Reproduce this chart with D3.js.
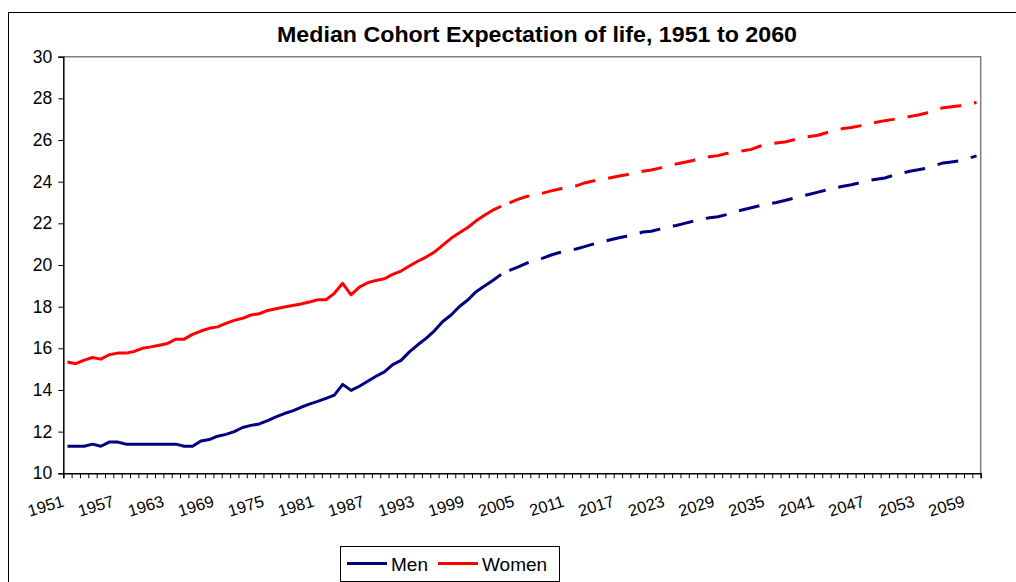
<!DOCTYPE html>
<html>
<head>
<meta charset="utf-8">
<script src="https://cdn.jsdelivr.net/npm/d3@7"></script>
<style>
  html, body { margin: 0; padding: 0; background: #fff; overflow: hidden; }
  svg { display: block; font-family: Arial, "Liberation Sans", sans-serif; }
</style>
</head>
<body>
<svg id="chart" width="1016" height="582"></svg>
<script>
// ---------- data ----------
const title = "Median Cohort Expectation of life, 1951 to 2060";
const years = d3.range(1951, 2061);
const lastObservedYear = 2003;
const xTickLabels = ["1951","1957","1963","1969","1975","1981","1987","1993","1999","2005","2011","2017","2023","2029","2035","2041","2047","2053","2059"];
const yTickValues = [10, 12, 14, 16, 18, 20, 22, 24, 26, 28, 30];
const seriesNames = ["Men", "Women"];

const menValues = [
  // 1951-1960
  11.3, 11.3, 11.3, 11.4, 11.3, 11.5, 11.5, 11.4, 11.4, 11.4,
  // 1961-1970
  11.4, 11.4, 11.4, 11.4, 11.3, 11.3, 11.55, 11.62, 11.78, 11.87,
  // 1971-1980
  12.0, 12.2, 12.3, 12.37, 12.53, 12.71, 12.87, 13.0, 13.17, 13.32,
  // 1981-1990
  13.45, 13.6, 13.75, 14.27, 13.98, 14.18, 14.42, 14.66, 14.87, 15.22,
  // 1991-2000
  15.42, 15.83, 16.17, 16.48, 16.84, 17.29, 17.6, 18.01, 18.32, 18.72,
  // 2001-2010
  18.99, 19.26, 19.55, 19.74, 19.9, 20.08, 20.22, 20.33, 20.48, 20.6,
  // 2011-2020
  20.71, 20.77, 20.88, 21.0, 21.1, 21.2, 21.3, 21.38, 21.47, 21.58,
  // 2021-2030
  21.62, 21.72, 21.83, 21.9, 22.0, 22.1, 22.2, 22.27, 22.32, 22.42,
  // 2031-2040
  22.55, 22.65, 22.75, 22.85, 22.92, 23.0, 23.1, 23.2, 23.3, 23.4,
  // 2041-2050
  23.5, 23.6, 23.7, 23.78, 23.85, 23.95, 24.05, 24.12, 24.18, 24.3,
  // 2051-2060
  24.4, 24.5, 24.57, 24.65, 24.78, 24.9, 24.95, 25.0, 25.12, 25.24
];

const womenValues = [
  // 1951-1960
  15.34, 15.26, 15.43, 15.56, 15.48, 15.69, 15.77, 15.77, 15.85, 16.0,
  // 1961-1970
  16.07, 16.15, 16.23, 16.44, 16.44, 16.67, 16.83, 16.96, 17.03, 17.2,
  // 1971-1980
  17.34, 17.44, 17.6, 17.66, 17.82, 17.9, 17.98, 18.06, 18.13, 18.22,
  // 1981-1990
  18.33, 18.33, 18.64, 19.12, 18.57, 18.94, 19.15, 19.26, 19.34, 19.55,
  // 1991-2000
  19.71, 19.95, 20.18, 20.38, 20.62, 20.95, 21.28, 21.55, 21.8, 22.12,
  // 2001-2010
  22.39, 22.63, 22.82, 22.98, 23.15, 23.28, 23.38, 23.45, 23.56, 23.65,
  // 2011-2020
  23.74, 23.8, 23.94, 24.03, 24.1, 24.18, 24.26, 24.33, 24.41, 24.5,
  // 2021-2030
  24.56, 24.65, 24.76, 24.85, 24.93, 25.02, 25.13, 25.2, 25.25, 25.35,
  // 2031-2040
  25.42, 25.48, 25.55, 25.7, 25.8, 25.86, 25.9, 26.0, 26.1, 26.17,
  // 2041-2050
  26.23, 26.35, 26.46, 26.55, 26.6, 26.68, 26.77, 26.85, 26.93, 26.99,
  // 2051-2060
  27.08, 27.13, 27.2, 27.3, 27.45, 27.55, 27.6, 27.65, 27.72, 27.8
];

const seriesColors = ["#000080", "#FF0000"];

// ---------- layout ----------
const svg = d3.select("#chart");
const plot = { left: 63.3, right: 980.7, top: 56.7, bottom: 473.3 };

// outer chart frame
svg.append("rect")
  .attr("x", 8.5).attr("y", 12.5)
  .attr("width", 1100).attr("height", 700)
  .attr("fill", "#fff").attr("stroke", "#000").attr("stroke-width", 1);

// title
svg.append("text")
  .attr("x", 537).attr("y", 42)
  .attr("text-anchor", "middle")
  .attr("font-size", 21.5).attr("font-weight", "bold")
  .attr("textLength", 520).attr("lengthAdjust", "spacingAndGlyphs")
  .attr("fill", "#000")
  .text(title);

// scales
const xBand = d3.scaleBand().domain(years).range([plot.left, plot.right]).padding(0);
const xEdge = d3.scaleLinear().domain([1951, 2061]).range([plot.left, plot.right]);
const y = d3.scaleLinear().domain([10, 30]).range([plot.bottom, plot.top]);
const cx = yr => xBand(yr) + xBand.bandwidth() / 2;

// plot area border (top & right grey)
svg.append("path")
  .attr("d", `M${plot.left},${plot.top}H${plot.right}V${plot.bottom}`)
  .attr("fill", "none").attr("stroke", "#808080").attr("stroke-width", 1.5);

// y axis
const yAxis = svg.append("g")
  .attr("transform", `translate(${plot.left},0)`)
  .call(d3.axisLeft(y).tickValues(yTickValues).tickSize(5).tickPadding(6).tickFormat(d3.format("d")));
yAxis.select(".domain").attr("stroke", "#000").attr("stroke-width", 1.5);
yAxis.selectAll(".tick line").attr("stroke", "#000");
yAxis.selectAll(".tick text")
  .attr("font-size", 17.5).attr("fill", "#000")
  .attr("font-family", "Arial, 'Liberation Sans', sans-serif");

// x axis (ticks at category boundaries)
const xAxis = svg.append("g")
  .attr("transform", `translate(0,${plot.bottom})`)
  .call(d3.axisBottom(xEdge).tickValues(d3.range(1951, 2062)).tickSize(5).tickFormat(""));
xAxis.select(".domain").attr("stroke", "#000").attr("stroke-width", 1.5);
xAxis.selectAll(".tick line").attr("stroke", "#000");

// x tick labels (rotated)
svg.append("g").selectAll("text")
  .data(xTickLabels)
  .join("text")
  .attr("transform", d => `translate(${cx(+d) - 2.5},${506}) rotate(-17)`)
  .attr("text-anchor", "end")
  .attr("font-size", 16.5).attr("fill", "#000")
  .text(d => d);

// lines
const line = d3.line().x(d => cx(d.year)).y(d => y(d.value));
[menValues, womenValues].forEach((vals, i) => {
  const pts = years.map((yr, k) => ({ year: yr, value: vals[k] }));
  const observed = pts.filter(p => p.year <= lastObservedYear);
  const projected = pts.filter(p => p.year >= lastObservedYear);
  svg.append("path").datum(observed)
    .attr("d", line).attr("fill", "none")
    .attr("stroke", seriesColors[i]).attr("stroke-width", 3)
    .attr("stroke-linejoin", "round");
  svg.append("path").datum(projected)
    .attr("d", line).attr("fill", "none")
    .attr("stroke", seriesColors[i]).attr("stroke-width", 3)
    .attr("stroke-dasharray", "21 13").attr("stroke-dashoffset", 25);
});

// legend
const legend = svg.append("g");
legend.append("rect")
  .attr("x", 340.5).attr("y", 546.5).attr("width", 219).attr("height", 35)
  .attr("fill", "#fff").attr("stroke", "#000").attr("stroke-width", 1);
const legendItems = [
  { name: seriesNames[0], color: seriesColors[0], x0: 347 },
  { name: seriesNames[1], color: seriesColors[1], x0: 438 }
];
legendItems.forEach(it => {
  legend.append("line")
    .attr("x1", it.x0).attr("x2", it.x0 + 40)
    .attr("y1", 563.5).attr("y2", 563.5)
    .attr("stroke", it.color).attr("stroke-width", 3);
  legend.append("text")
    .attr("x", it.x0 + 44).attr("y", 570.5)
    .attr("font-size", 19).attr("fill", "#000")
    .text(it.name);
});
</script>
</body>
</html>
